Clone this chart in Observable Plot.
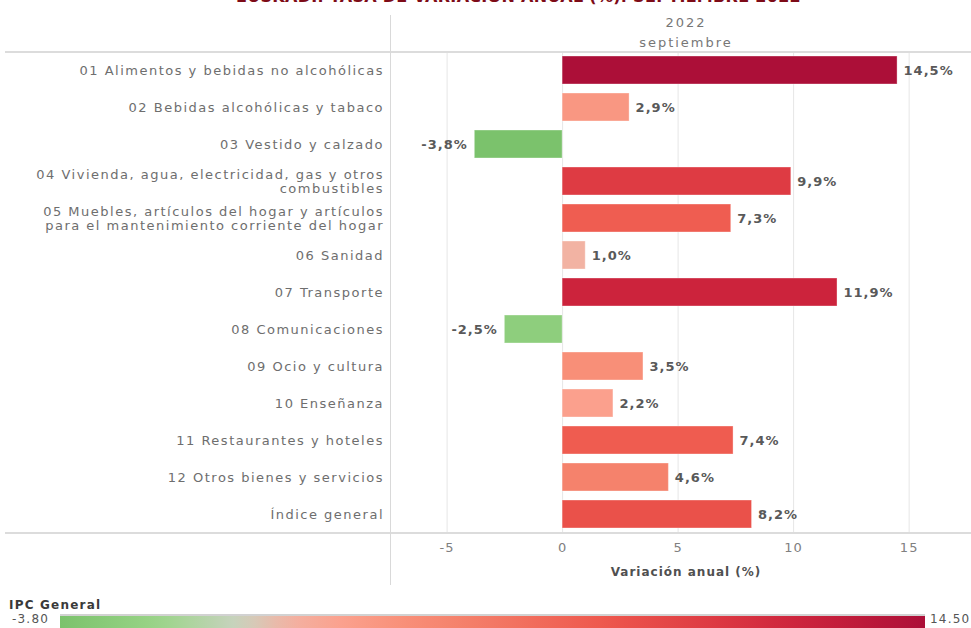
<!DOCTYPE html>
<html><head><meta charset="utf-8">
<script src="https://cdn.jsdelivr.net/npm/d3@7"></script>
<script src="https://cdn.jsdelivr.net/npm/@observablehq/plot@0.6"></script>
<style>
html,body{margin:0;padding:0;width:971px;height:628px;overflow:hidden;background:#fff;}
#wrap{position:relative;width:971px;height:628px;overflow:hidden;font-family:"DejaVu Sans",sans-serif;}
.abs{position:absolute;}
#title{left:0;width:1037px;text-align:center;top:-11px;font:bold 16px "DejaVu Sans",sans-serif;letter-spacing:0.3px;color:#7d0b17;line-height:16px;white-space:nowrap;}
.hdr{left:586px;width:200px;text-align:center;font:13px "DejaVu Sans",sans-serif;letter-spacing:2px;color:#777;}
.hline{background:#dcdcdc;height:2px;}
.vline{background:#d9d9d9;width:1px;}
#legTitle{left:9px;top:598px;font:bold 12px "DejaVu Sans",sans-serif;letter-spacing:1.2px;color:#3a3a3a;}
#legMin{left:12px;top:612px;font:12px "DejaVu Sans",sans-serif;letter-spacing:1.2px;color:#555;}
#legMax{left:930px;top:612px;font:12px "DejaVu Sans",sans-serif;letter-spacing:1.2px;color:#555;}
#ramp{left:60px;top:614px;width:865px;height:16px;border-top:2px solid #d2d2d2;}
#wrap svg text{letter-spacing:1px;}
#wrap svg g[aria-label="y-axis tick label"] text{letter-spacing:1.5px;}
</style></head><body><div id="wrap"></div>
<script>
const categories = [
  "01 Alimentos y bebidas no alcohólicas",
  "02 Bebidas alcohólicas y tabaco",
  "03 Vestido y calzado",
  "04 Vivienda, agua, electricidad, gas y otros\ncombustibles",
  "05 Muebles, artículos del hogar y artículos\npara el mantenimiento corriente del hogar",
  "06 Sanidad",
  "07 Transporte",
  "08 Comunicaciones",
  "09 Ocio y cultura",
  "10 Enseñanza",
  "11 Restaurantes y hoteles",
  "12 Otros bienes y servicios",
  "Índice general"
];
const values = [14.5, 2.9, -3.8, 9.9, 7.3, 1.0, 11.9, -2.5, 3.5, 2.2, 7.4, 4.6, 8.2];
const xTicks = [-5, 0, 5, 10, 15];
const headerYear = "2022";
const headerMonth = "septiembre";
const xLabel = "Variación anual (%)";
const legendLabel = "IPC General";
const legendMin = -3.8, legendMax = 14.5;
const titleText = "EUSKADI. TASA DE VARIACIÓN ANUAL (%). SEPTIEMBRE 2022";

const colorDomain = [-3.8, -1.8, 0, 1.0, 2.2, 3.5, 4.6, 7.4, 8.2, 9.9, 11.9, 14.5];
const colorRange = ["#7bc26c", "#98d486", "#cad3c1", "#f2b3a3", "#fba08d", "#f88f78", "#f5826c",
                    "#ef5c50", "#ea514a", "#de3b43", "#cc233c", "#ac0f38"];

const data = categories.map((c, i) => ({cat: c, v: values[i]}));
const fmt = v => v.toFixed(1).replace(".", ",") + "%";
const font = "'DejaVu Sans', sans-serif";

const chart = Plot.plot({
  width: 971, height: 590,
  marginLeft: 390, marginRight: 0, marginTop: 52, marginBottom: 57,
  style: {background: "transparent", fontFamily: font},
  x: {domain: [-7.45, 17.7], ticks: xTicks, label: null},
  y: {domain: categories, paddingInner: 0.24, paddingOuter: 0.12, label: null},
  color: {type: "linear", domain: colorDomain, range: colorRange, interpolate: "rgb"},
  marks: [
    Plot.gridX(xTicks, {stroke: "#e6e6e6", strokeOpacity: 1}),
    Plot.barX(data, {x: "v", y: "cat", fill: "v", stroke: "#ffffff", strokeOpacity: 0.35, strokeWidth: 1}),
    Plot.text(data.filter(d => d.v >= 0), {x: "v", y: "cat", text: d => fmt(d.v), textAnchor: "start", dx: 6,
      fontSize: 13, fontWeight: "bold", fill: "#595959"}),
    Plot.text(data.filter(d => d.v < 0), {x: "v", y: "cat", text: d => fmt(d.v), textAnchor: "end", dx: -7,
      fontSize: 13, fontWeight: "bold", fill: "#595959"}),
    Plot.axisY({tickSize: 0, tickPadding: 6.5, fontSize: 13, fill: "#6e6e6e", lineHeight: 1.08, label: null}),
    Plot.axisX({tickSize: 0, tickPadding: 9, fontSize: 13, fill: "#808080", label: null, tickFormat: d => String(d)}),
    Plot.text([xLabel], {frameAnchor: "bottom", dy: 42, dx: 5, fontSize: 12, fontWeight: "bold", fill: "#505050"})
  ]
});

const wrap = document.getElementById("wrap");
const mk = (cls, id, style, txt) => {
  const d = document.createElement("div");
  d.className = "abs " + cls; if (id) d.id = id;
  Object.assign(d.style, style || {}); if (txt != null) d.textContent = txt;
  wrap.appendChild(d); return d;
};
mk("", "title", {}, titleText);
mk("hdr", null, {top: "15px"}, headerYear);
mk("hdr", null, {top: "35px"}, headerMonth);
chart.style.position = "absolute"; chart.style.left = "0px"; chart.style.top = "0px";
wrap.appendChild(chart);
mk("hline", null, {left: "5px", width: "966px", top: "51px"});
mk("hline", null, {left: "5px", width: "966px", top: "532px"});
mk("vline", null, {left: "390px", top: "15px", height: "570px"});
mk("", "legTitle", {}, legendLabel);
mk("", "legMin", {}, legendMin.toFixed(2));
mk("", "legMax", {}, legendMax.toFixed(2));
const sc = chart.scale("color");
const stops = d3.range(0, 41).map(i => {
  const v = legendMin + (legendMax - legendMin) * i / 40;
  return `${sc.apply(v)} ${(i / 40 * 100).toFixed(2)}%`;
});
mk("", "ramp", {background: `linear-gradient(to right, ${stops.join(",")})`});
</script>
</body></html>
